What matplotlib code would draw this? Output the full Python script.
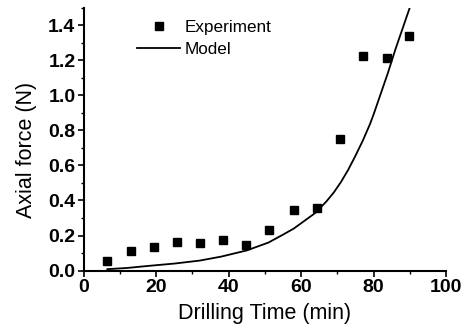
import matplotlib.pyplot as plt
from matplotlib.ticker import MultipleLocator

# Experiment data
exp_time = [6.4, 13.0, 19.3, 25.8, 32.0, 38.5, 44.8, 51.2, 58.0, 64.3, 70.7, 77.2, 83.6, 89.9]
exp_force = [0.057, 0.110, 0.133, 0.165, 0.160, 0.175, 0.146, 0.232, 0.346, 0.355, 0.748, 1.225, 1.214, 1.338]

# Model curve
model_time = [6.5, 12, 18, 25, 32, 38, 45, 51, 55, 58, 61, 64, 67, 69, 71, 73, 75, 77,
              79, 80, 82, 84, 86, 88, 90]
model_force = [0.008, 0.015, 0.027, 0.04, 0.057, 0.08, 0.115, 0.16, 0.205, 0.24, 0.285,
               0.33, 0.395, 0.445, 0.505, 0.575, 0.655, 0.74, 0.835, 0.89, 1.01, 1.13,
               1.26, 1.38, 1.50]

plt.rcParams['font.family'] = ['Liberation Sans', 'DejaVu Sans']

fig = plt.figure(figsize=(4.68, 3.32), dpi=100)
ax = fig.add_axes([0.179, 0.185, 0.774, 0.792])

ax.plot(exp_time, exp_force, 's', color='black', markersize=5.5, label='Experiment')
ax.plot(model_time, model_force, '-', color='black', linewidth=1.3, label='Model')

ax.set_xlim(0, 100)
ax.set_ylim(0, 1.5)
ax.xaxis.set_major_locator(MultipleLocator(20))
ax.xaxis.set_minor_locator(MultipleLocator(10))
ax.yaxis.set_major_locator(MultipleLocator(0.2))
ax.yaxis.set_minor_locator(MultipleLocator(0.1))
ax.set_yticks([0, 0.2, 0.4, 0.6, 0.8, 1.0, 1.2, 1.4])

ax.spines['top'].set_visible(False)
ax.spines['right'].set_visible(False)
ax.spines['left'].set_linewidth(1.5)
ax.spines['bottom'].set_linewidth(1.5)
ax.tick_params(which='major', direction='out', length=4, width=1.2, labelsize=14, pad=2)
ax.tick_params(which='minor', direction='out', length=2.5, width=1)
for lbl in ax.get_xticklabels() + ax.get_yticklabels():
    lbl.set_fontweight('bold')

ax.set_xlabel('Drilling Time (min)', fontsize=15.5)
ax.set_ylabel('Axial force (N)', fontsize=15.5)
ax.xaxis.set_label_coords(0.5, -0.125)
ax.yaxis.set_label_coords(-0.13, 0.46)

ax.legend(loc='upper left', bbox_to_anchor=(0.105, 1.01), frameon=False, fontsize=12.3,
          handlelength=2.5, handletextpad=0.3, labelspacing=0.4)

fig.savefig('out.png', dpi=100)
